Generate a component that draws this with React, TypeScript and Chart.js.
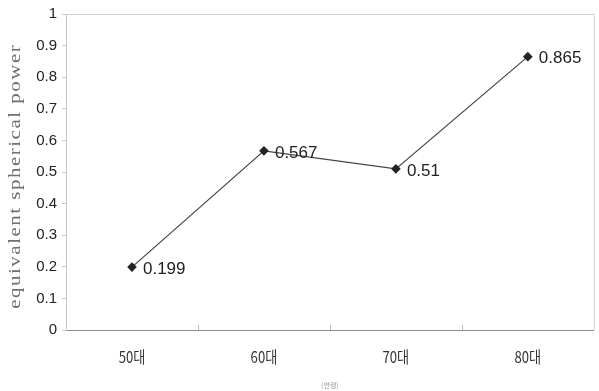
import React, { useEffect, useRef } from "react";
import { Chart, registerables } from "chart.js";

Chart.register(...registerables);

const categories = ["50대", "60대", "70대", "80대"];
const values = [0.199, 0.567, 0.51, 0.865];
const yTicks = [0, 0.1, 0.2, 0.3, 0.4, 0.5, 0.6, 0.7, 0.8, 0.9, 1];
const yTitle = "equivalent spherical power";
const xTitle = "(연령)";

const framePlugin = {
  id: "frame",
  afterDatasetsDraw(chart: any) {
    const { ctx, chartArea } = chart;
    const { left, right, top, bottom } = chartArea;
    ctx.save();
    ctx.lineWidth = 1;
    ctx.strokeStyle = "#cfcfcf";
    ctx.beginPath();
    ctx.moveTo(left, top + 0.5);
    ctx.lineTo(right + 0.5, top + 0.5);
    ctx.lineTo(right + 0.5, bottom);
    ctx.stroke();
    const xs = chart.scales.x;
    ctx.strokeStyle = "#bbbbbb";
    for (let i = 1; i < categories.length; i++) {
      const x = Math.round((xs.getPixelForValue(i - 1) + xs.getPixelForValue(i)) / 2) + 0.5;
      ctx.beginPath();
      ctx.moveTo(x, bottom);
      ctx.lineTo(x, bottom - 5);
      ctx.stroke();
    }
    // x category labels (condensed)
    ctx.fillStyle = "#333";
    ctx.font = "16px 'Noto Sans CJK KR', sans-serif";
    ctx.textAlign = "center";
    ctx.textBaseline = "middle";
    categories.forEach((c, i) => {
      const x = xs.getPixelForValue(i);
      ctx.save();
      ctx.translate(x, 357);
      ctx.scale(0.82, 1);
      ctx.fillText(c, 0, 0);
      ctx.restore();
    });
    // data labels
    const meta = chart.getDatasetMeta(0);
    ctx.fillStyle = "#222";
    ctx.font = "17px 'Liberation Sans', Arial, sans-serif";
    ctx.textAlign = "left";
    ctx.textBaseline = "middle";
    meta.data.forEach((pt: any, i: number) => {
      ctx.fillText(String(values[i]), pt.x + 11, pt.y + 2);
    });
    // y title, stretched
    ctx.save();
    ctx.font = "17px 'Liberation Serif', serif";
    ctx.fillStyle = "#6f6f6f";
    (ctx as any).letterSpacing = "1.2px";
    const w0 = ctx.measureText(yTitle).width;
    const k = 265 / w0;
    ctx.translate(16, 177);
    ctx.rotate(-Math.PI / 2);
    ctx.scale(k, 1);
    ctx.textAlign = "center";
    ctx.textBaseline = "middle";
    ctx.fillText(yTitle, 0.6, 0);
    ctx.restore();
    // x title
    ctx.fillStyle = "#999";
    ctx.font = "7px 'Noto Sans CJK KR', sans-serif";
    ctx.textAlign = "center";
    ctx.fillText(xTitle, (left + right) / 2, 385);
    ctx.restore();
  },
};

export default function App() {
  const ref = useRef<HTMLCanvasElement>(null);
  useEffect(() => {
    if (!ref.current) return;
    const chart = new Chart(ref.current, {
      type: "line",
      data: {
        labels: categories,
        datasets: [
          {
            data: values,
            borderColor: "#444",
            borderWidth: 1.2,
            pointStyle: "rectRot",
            pointRadius: 4,
            pointBackgroundColor: "#222",
            pointBorderColor: "#222",
            tension: 0,
          },
        ],
      },
      options: {
        animation: false,
        responsive: false,
        maintainAspectRatio: false,
        layout: { padding: { top: 13, right: 4, left: 0, bottom: 0 } },
        plugins: { legend: { display: false }, tooltip: { enabled: false } },
        scales: {
          x: {
            offset: true,
            grid: { display: false, offset: true },
            border: { display: true, color: "#8a8a8a", width: 1 },
            ticks: { display: false },
            afterFit(scale: any) {
              scale.height = 61;
            },
          },
          y: {
            min: 0,
            max: 1,
            afterBuildTicks(scale: any) {
              scale.ticks = yTicks.map((v) => ({ value: v }));
            },
            grid: { drawOnChartArea: false, drawTicks: true, tickLength: 4, color: "#cccccc" },
            border: { display: true, color: "#c4c4c4" },
            ticks: {
              color: "#222",
              padding: 5,
              font: { family: "'Liberation Sans', Arial, sans-serif", size: 15 },
              callback: (v: any) => String(Number(Number(v).toFixed(1))),
            },
            afterFit(scale: any) {
              scale.width = 66;
            },
          },
        },
      },
      plugins: [framePlugin],
    });
    return () => chart.destroy();
  }, []);
  return (
    <div style={{ position: "absolute", left: 0, top: 0, width: 599, height: 391, background: "#fff" }}>
      <canvas ref={ref} width={599} height={391} style={{ display: "block" }} />
    </div>
  );
}
